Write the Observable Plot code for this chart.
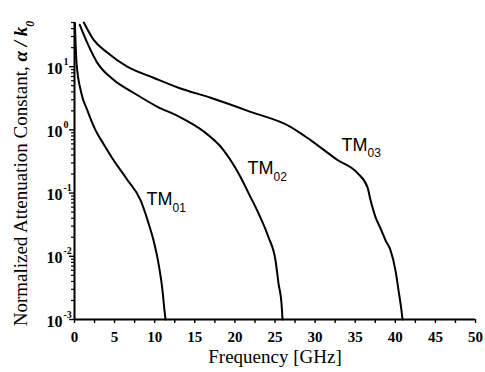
<!DOCTYPE html>
<html><head><meta charset="utf-8">
<script src="https://cdn.jsdelivr.net/npm/d3@7"></script>
<script src="https://cdn.jsdelivr.net/npm/@observablehq/plot@0.6"></script>
<style>body{margin:0;background:#fff}</style>
</head><body><div id="chart"></div>
<script>
// TM01 curve
const f01 = [0.05, 0.25, 0.84, 1.58, 2.6, 3.62, 4.86, 6.6, 8.23, 9.23, 9.85, 10.47, 10.97, 11.22, 11.35];
const a01 = [48, 11.6, 3.87, 2.07, 1.0, 0.6, 0.334, 0.161, 0.0774, 0.0334, 0.0179, 0.00774, 0.00289, 0.00139, 0.001];
// TM02 curve
const f02 = [0.66, 1.58, 2.83, 4.86, 7.36, 10.35, 12.84, 14.46, 16.08, 18.58, 20.07, 20.7, 21.7, 22.94, 24.19, 25.06, 25.44, 25.81, 25.94];
const a02 = [46, 24, 11.6, 6.2, 3.87, 2.32, 1.67, 1.29, 0.95, 0.48, 0.25, 0.18, 0.1, 0.048, 0.020, 0.00865, 0.0037, 0.0018, 0.001];
// TM03 curve
const f03 = [1.16, 2.37, 4.08, 6.57, 9.85, 12.97, 16.96, 21.95, 26.93, 29.43, 32.79, 35.29, 36.53, 36.91, 37.53, 38.15, 38.78, 39.4, 40.02, 40.4, 40.77, 40.9];
const a03 = [50, 26.8, 16.7, 10, 6.68, 4.64, 3.22, 1.93, 1.12, 0.69, 0.334, 0.207, 0.124, 0.0774, 0.0416, 0.0278, 0.0179, 0.0125, 0.006, 0.0029, 0.00139, 0.001];

const modes = ["TM01", "TM02", "TM03"];
const labelMain = ["TM", "TM", "TM"];
const labelSub = ["01", "02", "03"];
const labelF = [8.98, 21.57, 33.29];
const labelA = [0.0789, 0.245, 0.578];

const xMajor = [0, 5, 10, 15, 20, 25, 30, 35, 40, 45, 50];
const xMinor = [2.5, 7.5, 12.5, 17.5, 22.5, 27.5, 32.5, 37.5, 42.5, 47.5];
const yMajor = [1e-3, 1e-2, 1e-1, 1, 10];
const yExp = ["-3", "-2", "-1", "0", "1"];
const yMinor = [];
for (const d of [1e-3, 1e-2, 1e-1, 1, 10]) for (let k = 2; k <= 9; k++) if (d * k <= 50) yMinor.push(d * k);

const xTitle = "Frequency [GHz]";
const yTitle = "Normalized Attenuation Constant, α / k0";

const rows = [];
[[f01, a01], [f02, a02], [f03, a03]].forEach(([fs, as], j) => fs.forEach((f, i) => rows.push({mode: modes[j], f, a: as[i]})));
const labels = labelMain.map((t, i) => ({t, s: labelSub[i], f: labelF[i], a: labelA[i]}));

const svg = Plot.plot({
  width: 485, height: 372,
  marginLeft: 74, marginRight: 10, marginTop: 22, marginBottom: 53,
  style: {background: "#fff", color: "#000", fontFamily: "'Liberation Serif', 'Times New Roman', serif"},
  x: {domain: [0, 50]},
  y: {type: "log", domain: [1e-3, 50]},
  marks: [
    Plot.axisX(xMinor, {tickSize: 4, tickFormat: () => "", label: null, strokeWidth: 1.4}),
    Plot.axisX(xMajor, {tickSize: 4, tickFormat: () => "", label: null, strokeWidth: 1.4}),
    Plot.text(xMajor, {x: d => d, frameAnchor: "bottom", text: d => String(d), textAnchor: "middle", lineAnchor: "middle", dy: 18, fontSize: 15, fontWeight: "bold"}),
    Plot.axisY(yMinor, {tickSize: 3, tickFormat: () => "", label: null, strokeWidth: 1.2}),
    Plot.axisY(yMajor, {tickSize: 5, tickFormat: () => "", label: null, strokeWidth: 1.4}),
    Plot.text(yMajor, {y: d => d, frameAnchor: "left", text: () => "10", textAnchor: "end", lineAnchor: "middle", dx: -12, dy: 2, fontSize: 16, fontWeight: "bold"}),
    Plot.text(yMajor, {y: d => d, frameAnchor: "left", text: (d, i) => yExp[i], textAnchor: "start", lineAnchor: "middle", dx: -11, dy: -5, fontSize: 10, fontWeight: "bold"}),
    Plot.ruleY([1e-3], {strokeWidth: 2}),
    Plot.ruleX([0], {strokeWidth: 2}),
    Plot.line(rows, {x: "f", y: "a", z: "mode", stroke: "#000", strokeWidth: 2, curve: "monotone-x"}),
    Plot.text(labels, {x: "f", y: "a", text: "t", textAnchor: "start", lineAnchor: "middle", fontSize: 18, fontFamily: "'Liberation Sans', Arial, sans-serif"}),
    Plot.text(labels, {x: "f", y: "a", text: "s", textAnchor: "start", lineAnchor: "middle", dx: 26, dy: 8.5, fontSize: 12, fontFamily: "'Liberation Sans', Arial, sans-serif"}),
    Plot.text([xTitle], {frameAnchor: "bottom", text: d => d, textAnchor: "middle", lineAnchor: "middle", dy: 37, fontSize: 19, letterSpacing: 0.5}),
    Plot.text([yTitle], {frameAnchor: "left", text: d => d, rotate: -90, textAnchor: "middle", lineAnchor: "middle", dx: -54, dy: 2.5, fontSize: 19})
  ]
});

d3.select(svg).selectAll("text").filter(function() { return this.textContent === yTitle; }).each(function() {
  const t = d3.select(this);
  t.text(null);
  t.append("tspan").text("Normalized Attenuation Constant, ");
  t.append("tspan").attr("font-weight", "bold").attr("font-style", "italic").text("α / k");
  t.append("tspan").attr("font-weight", "bold").attr("font-style", "italic").attr("font-size", 12).attr("baseline-shift", "sub").text("0");
});

document.getElementById("chart").appendChild(svg);
</script>
</body></html>
